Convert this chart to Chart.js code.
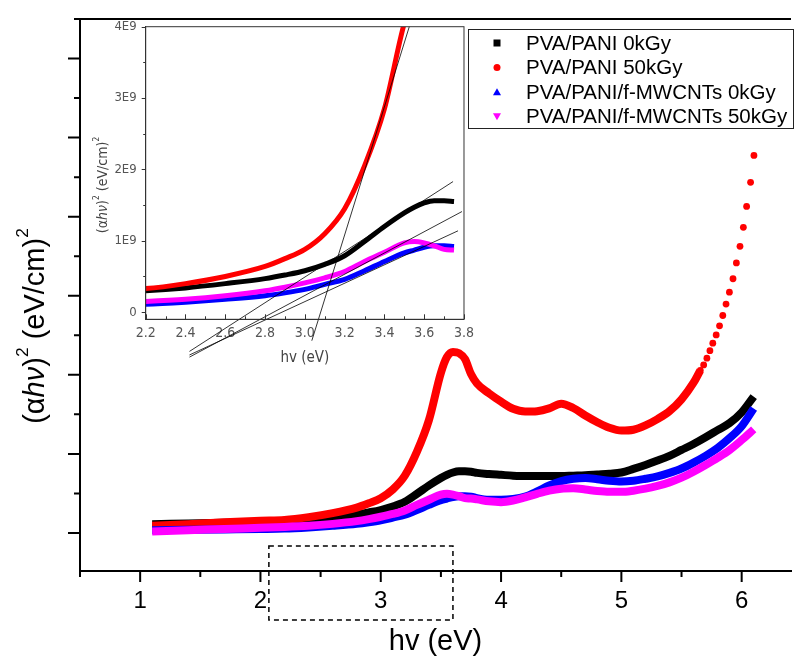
<!DOCTYPE html>
<html>
<head>
<meta charset="utf-8">
<script src="https://cdn.jsdelivr.net/npm/chart.js@4.4.1/dist/chart.umd.min.js"></script>
<style>
  body { margin: 0; background: #fff; }
  #wrap { position: relative; width: 795px; height: 660px; }
  #mainChart { position: absolute; left: 0; top: 0; }
  #insetChart { position: absolute; left: 80px; top: 0; }
</style>
</head>
<body>
<div id="wrap">
  <canvas id="mainChart" width="795" height="660"></canvas>
  <canvas id="insetChart" width="400" height="372"></canvas>
</div>
<script>
// (αhν)^2 values in units of 1E9 (eV/cm)^2, photon energy hv in eV
const hv = [1.1, 1.4, 1.7, 2.0, 2.2, 2.4, 2.6, 2.8, 2.9, 3.0,
            3.1, 3.2, 3.3, 3.4, 3.5, 3.55, 3.6, 3.65, 3.7, 3.75,
            3.8, 3.9, 4.0, 4.1, 4.2, 4.3, 4.4, 4.5, 4.6, 4.7,
            4.8, 4.9, 5.0, 5.1, 5.2, 5.3, 5.4, 5.5, 5.6, 5.7,
            5.8, 5.9, 6.0, 6.1];

const pvaPani0 = [0.22, 0.24, 0.26, 0.28, 0.30, 0.34, 0.40, 0.47, 0.52, 0.58,
                  0.67, 0.79, 0.99, 1.20, 1.39, 1.47, 1.53, 1.56, 1.56, 1.55,
                  1.52, 1.49, 1.47, 1.45, 1.44, 1.44, 1.44, 1.44, 1.45, 1.46,
                  1.48, 1.50, 1.53, 1.62, 1.72, 1.83, 1.95, 2.10, 2.25, 2.42,
                  2.60, 2.78, 3.05, 3.45];

// red series on hv up to 5.6 eV, then the sparse dots of the steep tail
const pvaPani50 = [0.18, 0.22, 0.27, 0.31, 0.33, 0.40, 0.50, 0.64, 0.75, 0.88,
                   1.10, 1.45, 2.05, 2.85, 4.05, 4.45, 4.58, 4.55, 4.40, 4.02,
                   3.78, 3.53, 3.32, 3.14, 3.07, 3.08, 3.15, 3.27, 3.16, 2.97,
                   2.80, 2.66, 2.59, 2.61, 2.72, 2.88, 3.08, 3.38, 3.80];
const pvaPani50TailHv = [5.656, 5.684, 5.711, 5.736, 5.760, 5.788, 5.816, 5.843, 5.870,
                         5.898, 5.928, 5.956, 5.986, 6.014, 6.041, 6.074, 6.102];
const pvaPani50Tail = [4.11, 4.25, 4.42, 4.61, 4.80, 5.01, 5.24, 5.50, 5.79,
                       6.09, 6.43, 6.83, 7.25, 7.73, 8.26, 8.87, 9.55];

const cnt0 = [0.07, 0.08, 0.09, 0.10, 0.11, 0.14, 0.18, 0.23, 0.27, 0.32,
              0.39, 0.46, 0.58, 0.71, 0.83, 0.87, 0.91, 0.93, 0.93, 0.92,
              0.88, 0.84, 0.84, 0.86, 0.92, 1.05, 1.20, 1.31, 1.37, 1.39,
              1.36, 1.32, 1.30, 1.32, 1.37, 1.43, 1.52, 1.63, 1.78, 1.95,
              2.15, 2.40, 2.70, 3.15];

const cnt50 = [0.04, 0.07, 0.10, 0.13, 0.15, 0.18, 0.23, 0.30, 0.35, 0.41,
               0.48, 0.57, 0.71, 0.84, 0.97, 0.99, 0.97, 0.93, 0.88, 0.87,
               0.85, 0.80, 0.78, 0.82, 0.90, 0.99, 1.07, 1.12, 1.13, 1.10,
               1.06, 1.04, 1.04, 1.07, 1.12, 1.19, 1.28, 1.40, 1.55, 1.72,
               1.90, 2.10, 2.35, 2.62];

const seriesNames = ['PVA/PANI 0kGy', 'PVA/PANI 50kGy', 'PVA/PANI/f-MWCNTs 0kGy', 'PVA/PANI/f-MWCNTs 50kGy'];
const seriesColors = ['#000000', '#ff0000', '#0000ff', '#ff00ff'];
const seriesMarks = ['rect', 'circle', 'up', 'down'];

const mainXTicks = [1, 2, 3, 4, 5, 6];
const insetXTicks = [2.2, 2.4, 2.6, 2.8, 3.0, 3.2, 3.4, 3.6, 3.8];
const insetYTicks = [0, 1, 2, 3, 4];

// straight-line fits drawn in the inset (hv, value pairs)
const fitLineHv = [[3.035, 3.525], [2.42, 3.745], [2.42, 3.79], [2.42, 3.77]];
const fitLineVal = [[-0.40, 4.0], [-0.55, 1.83], [-0.63, 1.41], [-0.60, 1.14]];

// dashed zoom box on the main plot, in axis units
const zoomBoxHv = [2.07, 3.6];
const zoomBoxVal = [-0.33, -2.2];

const SANS = "'Liberation Sans', Arial, sans-serif";
const NARROW = "'Liberation Sans Narrow', 'DejaVu Sans Condensed', 'Liberation Sans', sans-serif";

Chart.defaults.font.family = SANS;
Chart.defaults.color = '#000';

const pts = (xs, ys) => ys.map((v, i) => ({ x: xs[i], y: v }));
const allSeries = [
  pts(hv, pvaPani0),
  pts(hv, pvaPani50).concat(pts(pvaPani50TailHv, pvaPani50Tail)),
  pts(hv, cnt0),
  pts(hv, cnt50)
];

function seriesDataset(i, data, width, extra) {
  return Object.assign({
    label: seriesNames[i],
    data: data,
    borderColor: seriesColors[i],
    backgroundColor: seriesColors[i],
    borderWidth: width,
    pointRadius: 0,
    pointStyle: 'circle',
    cubicInterpolationMode: 'monotone',
    order: 4 - i
  }, extra);
}

function drawMark(ctx, mark, x, y, r, color) {
  ctx.fillStyle = color;
  ctx.beginPath();
  if (mark === 'rect') ctx.rect(x - r, y - r, 2 * r, 2 * r);
  else if (mark === 'circle') ctx.arc(x, y, r, 0, Math.PI * 2);
  else if (mark === 'up') { ctx.moveTo(x, y - r * 1.1); ctx.lineTo(x + r * 1.15, y + r * 0.9); ctx.lineTo(x - r * 1.15, y + r * 0.9); }
  else { ctx.moveTo(x, y + r * 1.1); ctx.lineTo(x + r * 1.15, y - r * 0.9); ctx.lineTo(x - r * 1.15, y - r * 0.9); }
  ctx.closePath();
  ctx.fill();
}

// rotated axis title made of plain / italic / superscript pieces
function drawVerticalTitle(ctx, parts, baseX, centerY, size, family, color) {
  ctx.save();
  ctx.translate(baseX, centerY);
  ctx.rotate(-Math.PI / 2);
  ctx.fillStyle = color;
  ctx.textBaseline = 'alphabetic';
  const fontOf = p => (p.it ? 'italic ' : '') + (p.sup ? size * 0.6 : size) + 'px ' + family;
  let total = 0;
  parts.forEach(p => { ctx.font = fontOf(p); p.w = ctx.measureText(p.t).width; total += p.w; });
  let xx = -total / 2;
  parts.forEach(p => {
    ctx.font = fontOf(p);
    ctx.fillText(p.t, xx, p.sup ? -size * 0.55 : 0);
    xx += p.w;
  });
  ctx.restore();
}

const yTitleParts = () => [
  { t: '(α' }, { t: 'hν', it: true }, { t: ')' }, { t: '2', sup: true },
  { t: ' (eV/cm)' }, { t: '2', sup: true }
];

// ticks, frame, legend, zoom box and y title of the main plot
const mainDecor = {
  id: 'mainDecor',
  afterDraw(chart) {
    const ctx = chart.ctx, xs = chart.scales.x, ys = chart.scales.y, a = chart.chartArea;
    ctx.save();
    ctx.strokeStyle = '#000';
    ctx.lineWidth = 2;
    ctx.beginPath();
    ctx.moveTo(a.left - 6, a.top);
    ctx.lineTo(a.right, a.top);
    for (let v = 0.5; v <= 6.01; v += 0.5) {
      const px = xs.getPixelForValue(v);
      const len = Math.abs(v - Math.round(v)) < 0.01 ? 11 : 6;
      ctx.moveTo(px, a.bottom);
      ctx.lineTo(px, a.bottom + len);
    }
    for (let v = 0; v <= 12; v++) {
      const py = ys.getPixelForValue(v);
      const len = v % 2 === 0 ? 12 : 6;
      ctx.moveTo(a.left, py);
      ctx.lineTo(a.left - len, py);
    }
    ctx.stroke();

    // dashed box
    ctx.lineWidth = 1.5;
    ctx.setLineDash([5, 4]);
    const bx0 = xs.getPixelForValue(zoomBoxHv[0]), bx1 = xs.getPixelForValue(zoomBoxHv[1]);
    const by0 = ys.getPixelForValue(zoomBoxVal[0]), by1 = ys.getPixelForValue(zoomBoxVal[1]);
    ctx.strokeRect(bx0, by0, bx1 - bx0, by1 - by0);
    ctx.setLineDash([]);

    // legend
    const lx = 468, ly = 29, lw = 325, lh = 99;
    ctx.lineWidth = 1;
    ctx.strokeStyle = '#222';
    ctx.strokeRect(lx + 0.5, ly + 0.5, lw, lh);
    ctx.font = '20.5px ' + SANS;
    ctx.textBaseline = 'middle';
    seriesNames.forEach((name, i) => {
      const yy = 43 + i * 24.5;
      drawMark(ctx, seriesMarks[i], 497, yy, 3.5, seriesColors[i]);
      ctx.fillStyle = '#000';
      ctx.fillText(name, 526, yy + 1);
    });
    ctx.restore();

    drawVerticalTitle(ctx, yTitleParts(), 44, 326, 29, SANS, '#000');
  }
};

new Chart(document.getElementById('mainChart'), {
  type: 'line',
  data: {
    datasets: [
      seriesDataset(0, allSeries[0], 8),
      seriesDataset(1, allSeries[1], 8, {
        pointRadius: c => (c.raw && c.raw.x > 5.62 ? 3.4 : 0),
        pointBorderWidth: 0,
        segment: { borderColor: c => (c.p0.parsed.x > 5.62 ? 'rgba(0,0,0,0)' : undefined) }
      }),
      seriesDataset(2, allSeries[2], 8),
      seriesDataset(3, allSeries[3], 8)
    ]
  },
  options: {
    responsive: false,
    devicePixelRatio: 1,
    animation: false,
    layout: { padding: { top: 19, right: 0, left: 0, bottom: 0 } },
    plugins: { legend: { display: false }, tooltip: { enabled: false } },
    scales: {
      x: {
        type: 'linear', min: 0.5, max: 6.41,
        afterBuildTicks: s => { s.ticks = mainXTicks.map(v => ({ value: v })); },
        afterFit: s => { s.height = 89; },
        grid: { display: false, drawTicks: false },
        border: { display: true, color: '#000', width: 2 },
        ticks: { font: { size: 24 }, color: '#000', padding: 16, maxRotation: 0, autoSkip: false },
        title: { display: true, text: 'hv (eV)', font: { size: 29 }, color: '#000', padding: { top: 0, bottom: 1 } }
      },
      y: {
        type: 'linear', min: -0.962, max: 13.0,
        afterFit: s => { s.width = 80; },
        grid: { display: false, drawTicks: false },
        border: { display: true, color: '#000', width: 2 },
        ticks: { display: false }
      }
    }
  },
  plugins: [mainDecor]
});

// ---- inset: same series, zoomed on the absorption edge ----
const insetDecor = {
  id: 'insetDecor',
  afterDraw(chart) {
    const ctx = chart.ctx, xs = chart.scales.x, ys = chart.scales.y, a = chart.chartArea;
    ctx.save();
    ctx.strokeStyle = '#333';
    ctx.lineWidth = 1;
    ctx.strokeRect(a.left, a.top, a.right - a.left, a.bottom - a.top);
    ctx.beginPath();
    for (let k = 0; k <= 16; k++) {
      const px = Math.round(xs.getPixelForValue(2.2 + k * 0.1)) + 0.5;
      ctx.moveTo(px, a.bottom);
      ctx.lineTo(px, a.bottom - (k % 2 === 0 ? 5 : 3));
    }
    for (let k = 0; k <= 8; k++) {
      const py = Math.round(ys.getPixelForValue(k * 0.5)) + 0.5;
      ctx.moveTo(a.left, py);
      ctx.lineTo(a.left - (k % 2 === 0 ? 4 : 2.5), py);
    }
    ctx.stroke();
    ctx.restore();
    drawVerticalTitle(ctx, yTitleParts(), 27, 185, 14, NARROW, '#444');
  }
};

const inInset = p => p.x >= 2.0 && p.x <= 3.75;
const fitDatasets = fitLineHv.map((xs, i) => ({
  label: 'fit' + i,
  data: pts(xs, fitLineVal[i]),
  borderColor: '#000',
  borderWidth: 0.8,
  pointRadius: 0,
  tension: 0,
  clip: false,
  order: 0
}));

new Chart(document.getElementById('insetChart'), {
  type: 'line',
  data: {
    datasets: allSeries.map((d, i) => seriesDataset(i, d.filter(inInset), 5, { clip: 0 })).concat(fitDatasets)
  },
  options: {
    responsive: false,
    devicePixelRatio: 1,
    animation: false,
    layout: { padding: { top: 26.7, right: 13.3, left: 0, bottom: 0 } },
    plugins: { legend: { display: false }, tooltip: { enabled: false } },
    scales: {
      x: {
        type: 'linear', min: 2.2, max: 3.8,
        afterBuildTicks: s => { s.ticks = insetXTicks.map(v => ({ value: v })); },
        afterFit: s => { s.height = 52.7; },
        grid: { display: false, drawTicks: false },
        border: { display: true, color: '#333', width: 1 },
        ticks: { font: { family: NARROW, size: 14 }, color: '#555', padding: 6, maxRotation: 0, autoSkip: false,
                 callback: v => v.toFixed(1) },
        title: { display: true, text: 'hv (eV)', font: { family: NARROW, size: 15 }, color: '#444', padding: { top: 0, bottom: 5 } }
      },
      y: {
        type: 'linear', min: -0.1, max: 4.0,
        afterBuildTicks: s => { s.ticks = insetYTicks.map(v => ({ value: v })); },
        afterFit: s => { s.width = 65.7; },
        grid: { display: false, drawTicks: false },
        border: { display: true, color: '#333', width: 1 },
        ticks: { font: { family: NARROW, size: 13 }, color: '#555', padding: 9,
                 callback: v => (v === 0 ? '0' : v + 'E9') }
      }
    }
  },
  plugins: [insetDecor]
});
</script>
</body>
</html>
